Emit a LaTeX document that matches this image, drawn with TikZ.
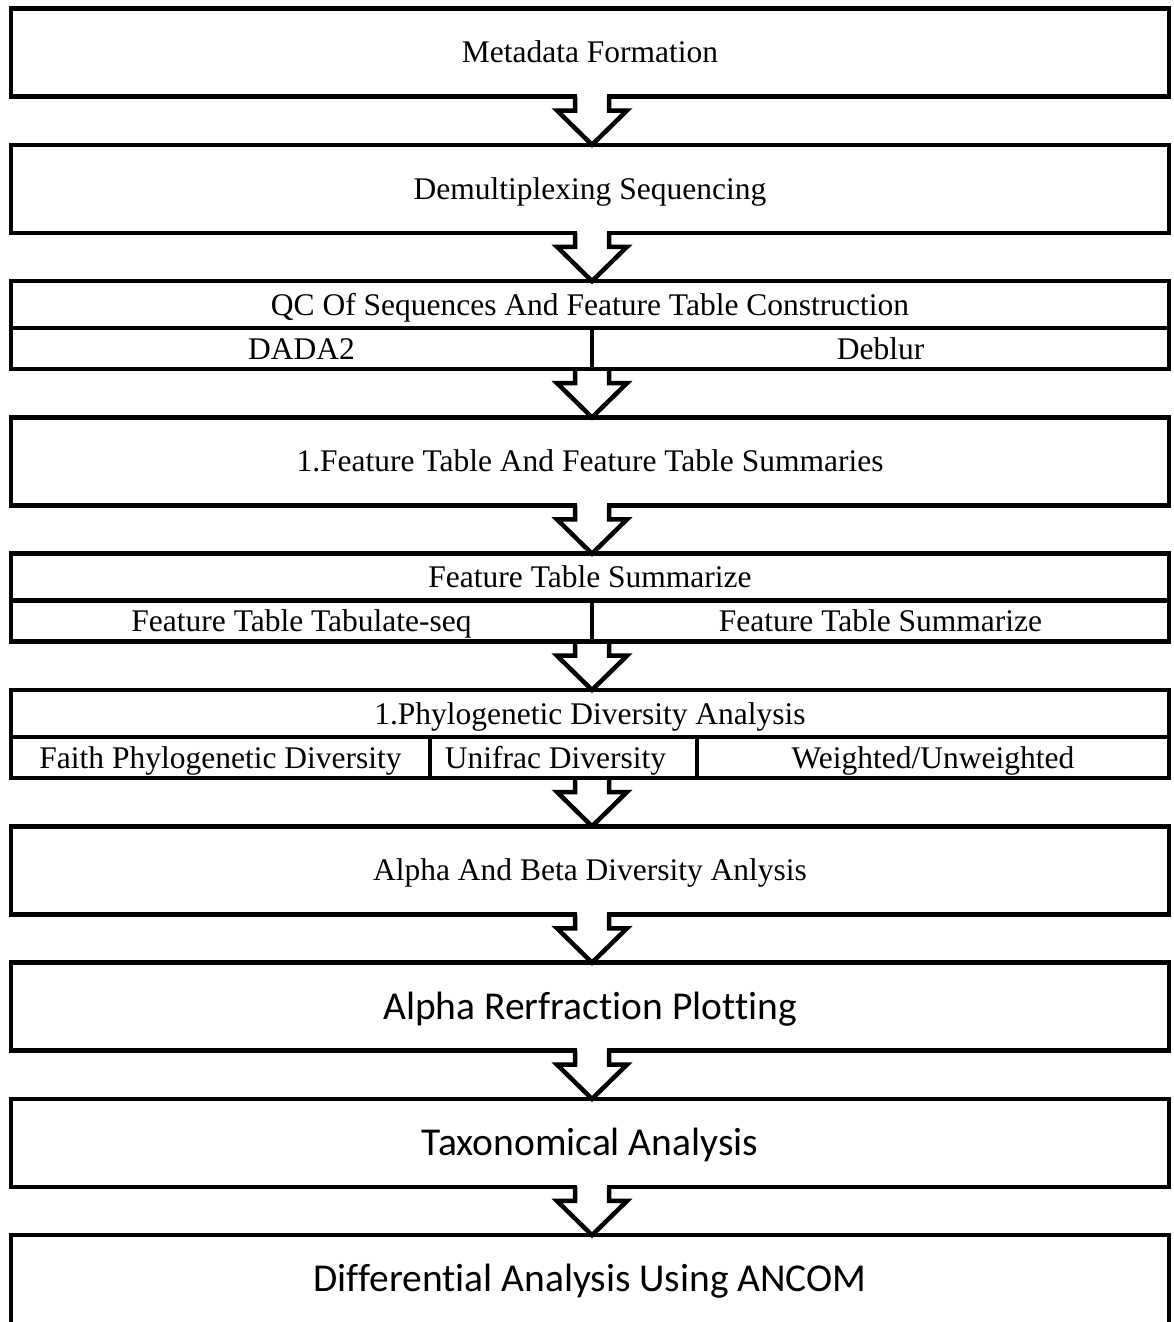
\documentclass[tikz,border=0pt]{standalone}
\usepackage{fontspec}
\setmainfont{Liberation Serif}
\newfontfamily\sansf[Ligatures={NoCommon}]{Carlito}
\usetikzlibrary{calc}

\tikzset{
  cellbox/.style={rectangle, draw, line width=4.5pt, line join=miter, inner sep=0pt, outer sep=0pt},
  bigbox/.style={cellbox, minimum width=1158pt, minimum height=88pt, anchor=north},
  toprow/.style={cellbox, minimum width=1158pt, minimum height=47pt, anchor=north},
  subrow/.style={cellbox, minimum height=41pt, anchor=north west},
  sertext/.style={font=\fontsize{31.5}{36}\selectfont, text height=28pt, text depth=7pt},
  santext/.style={font=\sansf\fontsize{39.5}{44}\selectfont, text height=33pt, text depth=8pt},
  arr/.style={draw, line width=4.5pt, line join=miter, miter limit=10},
  openframe/.style={draw, line width=4.5pt, line join=miter},
}

\newcommand\blockarrow[2]{%
  \draw[arr] ($(#1.south)+(-15,0)$) -- ($(#1.south)+(-15,14)$) -- ($(#1.south)+(-33,14)$)
    -- ($(#2.north)+(2,0)$) -- ($(#1.south)+(37,14)$) -- ($(#1.south)+(19,14)$)
    -- ($(#1.south)+(19,0)$);}
\newcommand\gaperase[1]{%
  \fill[white] ($(#1.south)+(-12.75,-3.5)$) rectangle ($(#1.south)+(16.75,3.5)$);}

\begin{document}
\begin{tikzpicture}[x=1pt,y=-1pt]
\useasboundingbox (0,0) rectangle (1173,1322);
\fill[white] (0,0) rectangle (1173,1322);
\clip (0,0) rectangle (1173,1322);

% box 1
\node[bigbox, sertext] (b1) at (590,8.5) {Metadata Formation};
% box 2
\node[bigbox, sertext] (b2) at (590,144.8) {Demultiplexing Sequencing};
% box 3 (table)
\node[bigbox] (b3) at (590,281.1) {};
\node[toprow, sertext] (q3) at (590,281.1) {QC Of Sequences And Feature Table Construction};
\node[subrow, sertext, minimum width=581pt] (d3a) at (11,328.1) {DADA2};
\node[subrow, sertext, minimum width=577pt] (d3b) at (592,328.1) {Deblur};
% box 4
\node[bigbox, sertext] (b4) at (590,417.4) {1.Feature Table And Feature Table Summaries};
% box 5 (table)
\node[bigbox] (b5) at (590,553.7) {};
\node[toprow, sertext] (q5) at (590,553.7) {Feature Table Summarize};
\node[subrow, sertext, minimum width=581pt] (d5a) at (11,600.7) {Feature Table Tabulate-seq};
\node[subrow, sertext, minimum width=577pt] (d5b) at (592,600.7) {Feature Table Summarize};
% box 6 (table)
\node[bigbox] (b6) at (590,690) {};
\node[toprow, sertext] (q6) at (590,690) {1.Phylogenetic Diversity Analysis};
\node[subrow, sertext, minimum width=419pt] (d6a) at (11,737) {Faith Phylogenetic Diversity};
\node[subrow, minimum width=267pt] (d6b) at (430,737) {};
\node[sertext, inner sep=0pt] (t6b) at ($(d6b.center)+(-8,0)$) {Unifrac Diversity};
\node[subrow, sertext, minimum width=472pt] (d6c) at (697,737) {Weighted/Unweighted};
% box 7
\node[bigbox, sertext] (b7) at (590,826.3) {Alpha And Beta Diversity Anlysis};
% box 8
\node[bigbox, santext] (b8) at (590,962.6) {Alpha Rerfraction Plotting};
% box 9
\node[bigbox, santext] (b9) at (590,1098.9) {Taxonomical Analysis};
% box 10 (open at the bottom edge of the page)
\node[bigbox, santext, draw=none] (b10) at (590,1235.2) {Differential Analysis Using ANCOM};
\draw[openframe] ($(b10.south west)+(0,30)$) -- (b10.north west) -- (b10.north east) -- ($(b10.south east)+(0,30)$);

% arrows
\gaperase{b1}\blockarrow{b1}{b2}
\gaperase{b2}\blockarrow{b2}{b3}
\blockarrow{b3}{b4}
\gaperase{b4}\blockarrow{b4}{b5}
\blockarrow{b5}{b6}
\blockarrow{b6}{b7}
\gaperase{b7}\blockarrow{b7}{b8}
\gaperase{b8}\blockarrow{b8}{b9}
\gaperase{b9}\blockarrow{b9}{b10}
\end{tikzpicture}
\end{document}
